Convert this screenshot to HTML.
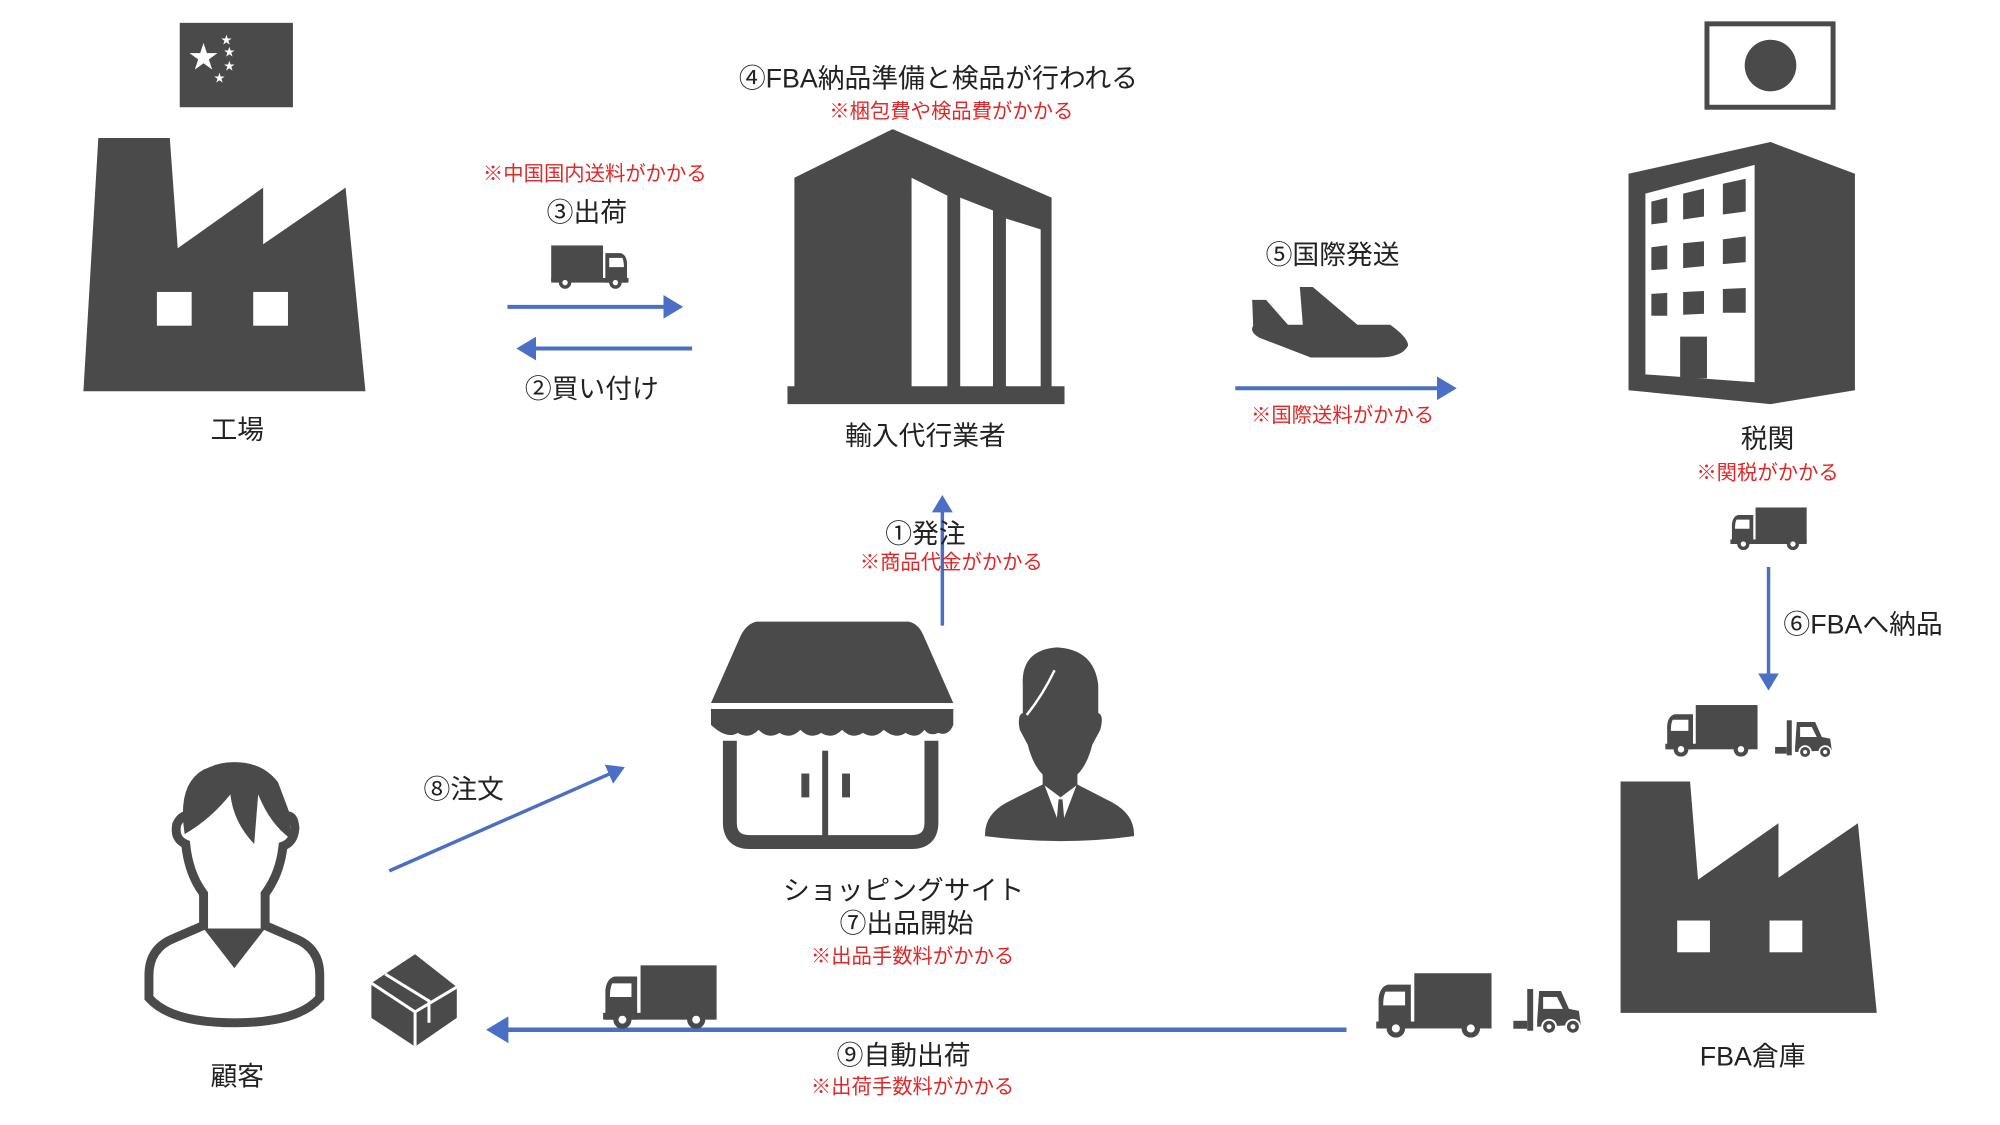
<!DOCTYPE html>
<html><head><meta charset="utf-8"><style>
html,body{margin:0;padding:0;background:#fff}
svg{display:block}
text{font-family:"Liberation Sans","Noto Sans CJK JP",sans-serif}
.b{font-size:27px;fill:#222;text-anchor:middle}
.r{font-size:20.5px;fill:#e02828;text-anchor:middle}
</style></head><body>
<svg width="2000" height="1125" viewBox="0 0 2000 1125" xmlns="http://www.w3.org/2000/svg">
<defs>
<symbol id="truck" viewBox="0 0 100 56">
<path d="M2 48 L2 22 Q3 12 10 10 L30 10 L30 48 Z" fill="#4a4a4a"/>
<path d="M8 16 L25 16 L25 28 L6 28 Q6 20 8 16 Z" fill="#fff"/>
<rect x="33" y="0" width="67" height="46" fill="#4a4a4a"/>
<rect x="0" y="42" width="100" height="6" fill="#4a4a4a"/>
<circle cx="17" cy="48" r="8" fill="#4a4a4a"/><circle cx="17" cy="48" r="3.5" fill="#fff"/>
<circle cx="82" cy="48" r="8" fill="#4a4a4a"/><circle cx="82" cy="48" r="3.5" fill="#fff"/>
</symbol>
<symbol id="fork" viewBox="0 0 70 50">
<rect x="0" y="36" width="14" height="8" fill="#4a4a4a"/>
<rect x="14" y="4" width="6" height="42" fill="#4a4a4a"/>
<path d="M24 36 L26 6 L48 6 L56 24 L66 26 L68 40 L24 42 Z" fill="#4a4a4a"/>
<path d="M30 12 L44 12 L50 24 L30 24 Z" fill="#fff"/>
<circle cx="36" cy="42" r="7" fill="#4a4a4a" stroke="#fff" stroke-width="2"/><circle cx="36" cy="42" r="2.5" fill="#fff"/>
<circle cx="60" cy="42" r="7" fill="#4a4a4a" stroke="#fff" stroke-width="2"/><circle cx="60" cy="42" r="2.5" fill="#fff"/>
</symbol>
<marker id="ah" markerWidth="6" markerHeight="6" refX="4" refY="3" orient="auto" markerUnits="strokeWidth"><path d="M0 0 L5 3 L0 6 Z" fill="#4a6fc4"/></marker>
</defs>
<g transform="scale(0.993)">
<!-- China flag -->
<rect x="181" y="23" width="114" height="85" fill="#4a4a4a"/>
<text x="205" y="68" font-size="30" fill="#fff" text-anchor="middle">★</text>
<text x="228" y="44" font-size="11" fill="#fff" text-anchor="middle">★</text>
<text x="231" y="56" font-size="11" fill="#fff" text-anchor="middle">★</text>
<text x="231" y="70" font-size="11" fill="#fff" text-anchor="middle">★</text>
<text x="221" y="82" font-size="11" fill="#fff" text-anchor="middle">★</text>

<!-- Factory -->
<path d="M99 139 L171 139 L179 250 L265 189 L265 246 L348 189 L368 394 L84 394 Z" fill="#4a4a4a"/>
<rect x="158" y="294" width="35" height="34" fill="#fff"/><rect x="255" y="294" width="35" height="34" fill="#fff"/>
<text class="b" x="239" y="442">工場</text>

<!-- ③ -->
<text class="r" x="599" y="182">※中国国内送料がかかる</text>
<text class="b" x="591" y="223">③出荷</text>
<use href="#truck" x="555" y="247" width="78" height="44" transform="translate(1188 0) scale(-1 1)"/>
<line x1="511" y1="309" x2="684" y2="309" stroke="#4a6fc4" stroke-width="4" marker-end="url(#ah)"/>
<line x1="697" y1="351" x2="524" y2="351" stroke="#4a6fc4" stroke-width="4" marker-end="url(#ah)"/>
<text class="b" x="596" y="401">②買い付け</text>

<!-- ④ -->
<text class="b" x="945" y="88">④FBA納品準備と検品が行われる</text>
<text class="r" x="958" y="119">※梱包費や検品費がかかる</text>
<path d="M800 179 L899 130 L1059 199 L1059 389 L1072 389 L1072 407 L793 407 L793 389 L800 389 Z" fill="#4a4a4a"/>
<path d="M918 179 L954 197 L954 389 L918 389 Z" fill="#fff"/>
<path d="M967 199 L1000 212 L1000 389 L967 389 Z" fill="#fff"/>
<path d="M1013 220 L1048 231 L1048 389 L1013 389 Z" fill="#fff"/>
<text class="b" x="932" y="448">輸入代行業者</text>

<!-- ⑤ -->
<text class="b" x="1342" y="266">⑤国際発送</text>
<path d="M1261 302 L1275 302 L1297 327 L1312 327 L1309 289 L1322 289 L1367 327 L1400 327 Q1418 340 1418 348 Q1412 360 1388 360 L1320 360 L1268 340 Q1258 334 1262 328 Z" fill="#4a4a4a"/>
<line x1="1244" y1="391" x2="1463" y2="391" stroke="#4a6fc4" stroke-width="4" marker-end="url(#ah)"/>
<text class="r" x="1352" y="425">※国際送料がかかる</text>

<!-- Japan -->
<rect x="1719" y="24" width="127" height="84" fill="#fff" stroke="#4a4a4a" stroke-width="5"/>
<ellipse cx="1783" cy="66" rx="26" ry="26" fill="#4a4a4a"/>
<path d="M1640 175 L1783 143 L1868 175 L1868 393 L1783 407 L1640 393 Z" fill="#4a4a4a"/>
<path d="M1657 195 L1767 166 L1767 385 L1657 377 Z" fill="#fff"/>
<g fill="#4a4a4a">
<path d="M1663 203 L1679 199 L1679 224 L1663 226 Z"/><path d="M1695 195 L1716 190 L1716 218 L1695 221 Z"/><path d="M1735 185 L1758 180 L1758 213 L1735 216 Z"/>
<path d="M1663 249 L1679 247 L1679 271 L1663 272 Z"/><path d="M1695 245 L1716 243 L1716 268 L1695 270 Z"/><path d="M1735 241 L1758 238 L1758 264 L1735 266 Z"/>
<path d="M1663 296 L1679 295 L1679 318 L1663 318 Z"/><path d="M1695 294 L1716 293 L1716 316 L1695 317 Z"/><path d="M1735 291 L1758 290 L1758 315 L1735 315 Z"/>
<rect x="1692" y="339" width="27" height="42"/>
</g>
<text class="b" x="1780" y="451">税関</text>
<text class="r" x="1780" y="483">※関税がかかる</text>
<use href="#truck" x="1742" y="511" width="78" height="43"/>
<line x1="1781" y1="571" x2="1781" y2="692" stroke="#4a6fc4" stroke-width="3.5" marker-end="url(#ah)"/>
<text x="1796" y="638" font-size="27" fill="#222">⑥FBAへ納品</text>
<use href="#truck" x="1676" y="710" width="95" height="52"/>
<use href="#fork" x="1786" y="722" width="62" height="42"/>

<!-- FBA warehouse -->
<path d="M1632 787 L1702 787 L1710 886 L1791 829 L1791 884 L1871 829 L1890 1020 L1632 1020 Z" fill="#4a4a4a"/>
<rect x="1689" y="927" width="33" height="32" fill="#fff"/><rect x="1782" y="927" width="33" height="32" fill="#fff"/>
<text class="b" x="1765" y="1073">FBA倉庫</text>

<!-- bottom -->
<use href="#truck" x="1384" y="980" width="120" height="65"/>
<use href="#fork" x="1522" y="992" width="74" height="50"/>
<line x1="1356" y1="1037" x2="494" y2="1037" stroke="#4a6fc4" stroke-width="4.5" marker-end="url(#ah)"/>
<use href="#truck" x="606" y="972" width="117" height="64"/>
<text class="b" x="910" y="1072">⑨自動出荷</text>
<text class="r" x="919" y="1101">※出荷手数料がかかる</text>

<!-- box -->
<path d="M374 990 L418 961 L460 994 L460 1025 L418 1054 L374 1025 Z" fill="#4a4a4a"/>
<path d="M374 990 L418 1019 L460 994 M418 1019 L418 1054" stroke="#fff" stroke-width="3" fill="none"/>
<path d="M388 981 L432 1008 L432 1030" stroke="#fff" stroke-width="3" fill="none"/>

<!-- customer -->
<path d="M150 982 Q150 955 175 945 L205 932 L205 900 Q190 880 187 850 Q175 845 178 830 Q183 820 190 822 L198 790 Q210 772 236 772 Q262 772 276 790 L288 822 Q296 820 297 834 Q296 848 285 852 Q282 880 267 900 L267 932 L297 945 Q322 955 322 982 L322 1005 Q300 1030 236 1030 Q172 1030 150 1005 Z" fill="#fff" stroke="#4a4a4a" stroke-width="9"/>
<path d="M186 840 Q178 790 205 775 Q235 762 262 775 Q292 795 293 845 Q272 830 260 800 L256 850 Q235 828 232 800 Q212 825 186 840 Z" fill="#4a4a4a"/>
<path d="M205 935 L236 975 L267 935 Z" fill="#4a4a4a"/>
<text class="b" x="239" y="1093">顧客</text>

<!-- ⑧ -->
<text class="b" x="467" y="804">⑧注文</text>
<line x1="392" y1="877" x2="626" y2="774" stroke="#4a6fc4" stroke-width="3.5" marker-end="url(#ah)"/>

<!-- store -->
<path d="M762 626 L915 626 Q925 628 930 640 L960 708 L716 708 L746 640 Q752 628 762 626 Z" fill="#4a4a4a"/>
<path d="M716 714 L960 714 L960 730 Q955 742 945 738 Q936 742 931 735 Q923 745 912 738 Q902 745 890 735 Q880 745 869 738 Q858 745 848 735 Q838 745 827 738 Q816 745 806 735 Q796 745 785 738 Q774 745 764 735 Q754 745 743 738 Q732 745 716 730 Z" fill="#4a4a4a"/>
<path d="M735 746 L735 828 Q735 848 755 848 L918 848 Q938 848 938 828 L938 746" fill="none" stroke="#4a4a4a" stroke-width="14"/>
<rect x="828" y="756" width="6" height="90" fill="#4a4a4a"/>
<rect x="807" y="779" width="8" height="24" fill="#4a4a4a"/><rect x="848" y="779" width="8" height="24" fill="#4a4a4a"/>

<!-- businessman -->
<path d="M1030 690 Q1028 655 1064 652 Q1102 654 1106 690 L1106 718 Q1112 720 1108 735 L1100 750 Q1095 770 1085 780 L1085 790 L1120 808 Q1142 820 1142 840 L1142 842 Q1070 852 992 842 L992 840 Q992 820 1014 808 L1050 790 L1050 780 Q1040 770 1035 750 L1027 735 Q1024 720 1030 718 Z" fill="#4a4a4a"/>
<path d="M1034 720 Q1050 700 1062 675" stroke="#fff" stroke-width="2.5" fill="none"/>
<path d="M1052 791 L1066 828 L1068 803 L1070 828 L1084 791 L1076 797 L1068 803 L1060 797 Z" fill="#fff"/>
<path d="M1066 805 L1070 805 L1072 828 L1064 828 Z" fill="#4a4a4a"/>

<text class="b" x="910" y="906">ショッピングサイト</text>
<text class="b" x="913" y="939">⑦出品開始</text>
<text class="r" x="919" y="970">※出品手数料がかかる</text>

<!-- ① -->
<line x1="949" y1="630" x2="949" y2="502" stroke="#4a6fc4" stroke-width="3.5" marker-end="url(#ah)"/>
<text class="b" x="932" y="547">①発注</text>
<text class="r" x="958" y="573">※商品代金がかかる</text>
</g>
</svg>
</body></html>
